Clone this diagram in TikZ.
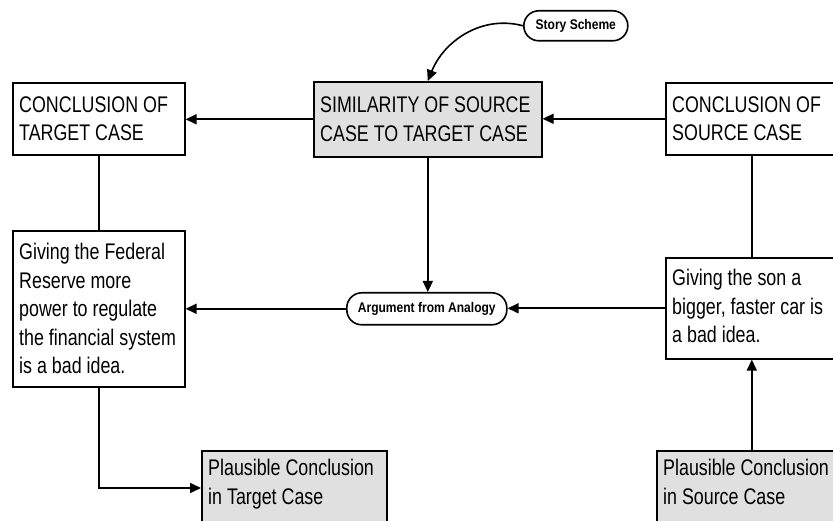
\documentclass[tikz,border=0pt]{standalone}
\usepackage{fontspec}
\setmainfont[FakeStretch=0.79]{Liberation Sans}
\newfontfamily\labfont[FakeStretch=0.86]{Liberation Sans}
\usetikzlibrary{arrows.meta}
\definecolor{boxgray}{RGB}{224,224,224}
\begin{document}
\begin{tikzpicture}[x=1pt,y=-1pt,
  every node/.style={font=\fontsize{22.6}{28.5}\selectfont},
  box/.style={draw, line width=1.6pt, anchor=north west, inner sep=0pt, fill=white},
  gbox/.style={box, fill=boxgray},
  txt/.style={anchor=west, align=left, inner sep=0pt},
  pill/.style={draw, line width=1.6pt, rounded corners=15pt, fill=white, font=\labfont\bfseries\fontsize{14}{16}\selectfont, inner sep=0pt},
  arr/.style={line width=1.6pt, -{Triangle[length=11pt,width=10pt]}},
  ln/.style={line width=1.6pt}]
\useasboundingbox (0,0) rectangle (833,521);
\clip (0,0) rectangle (833,521);
\fill[white] (0,0) rectangle (833,521);
% boxes
\node[box, minimum width=172, minimum height=72] (tc) at (12,82) {};
\node[txt] (tct) at ([xshift=7pt]tc.west) {CONCLUSION OF\\TARGET CASE};
\node[gbox, minimum width=228, minimum height=75] (sim) at (313,81) {};
\node[txt] (simt) at ([xshift=7pt]sim.west) {SIMILARITY OF SOURCE\\CASE TO TARGET CASE};
\node[box, minimum width=172, minimum height=72] (sc) at (665,82) {};
\node[txt] (sct) at ([xshift=7pt]sc.west) {CONCLUSION OF\\SOURCE CASE};
\node[box, minimum width=172, minimum height=156] (fed) at (12,230) {};
\node[txt] (fedt) at ([xshift=7pt]fed.west) {Giving the Federal\\Reserve more\\power to regulate\\the financial system\\is a bad idea.};
\node[box, minimum width=172, minimum height=101] (son) at (665,257) {};
\node[txt] (sont) at ([xshift=7pt,yshift=2pt]son.west) {Giving the son a\\bigger, faster car is\\a bad idea.};
\node[pill, minimum width=104, minimum height=30, anchor=north west] (ss) at (523,10) {Story Scheme};
\node[pill, minimum width=160, minimum height=32, anchor=north west] (arg) at (346,292) {Argument from Analogy};
\node[gbox, minimum width=185, minimum height=110] (pt) at (201,450) {};
\node[txt, anchor=north west] (ptt) at (208,459) {Plausible Conclusion\\in Target Case};
\node[gbox, minimum width=190, minimum height=110] (ps) at (656,450) {};
\node[txt, anchor=north west] (pst) at (663,459) {Plausible Conclusion\\in Source Case};
% connectors
\draw[arr] (sim.west) -- (sim.west -| tc.east);
\draw[arr] (sc.west) -- (sc.west -| sim.east);
\draw[ln] (tc.south) -- (fed.north);
\draw[arr] (sim.south) -- (sim.south |- arg.north);
\draw[arr] (arg.west) -- (arg.west -| fed.east);
\draw[arr] (son.west) -- (son.west -| arg.east);
\draw[ln] (sc.south) -- (son.north);
\coordinate (psup) at (son.south |- ps.north);
\draw[arr] (psup) -- (son.south);
\coordinate (ptin) at ([yshift=-38pt]pt.north west);
\draw[arr] (fed.south) |- (ptin);
\draw[arr] (ss.west) to[out=165,in=68] (sim.north);
\end{tikzpicture}
\end{document}
